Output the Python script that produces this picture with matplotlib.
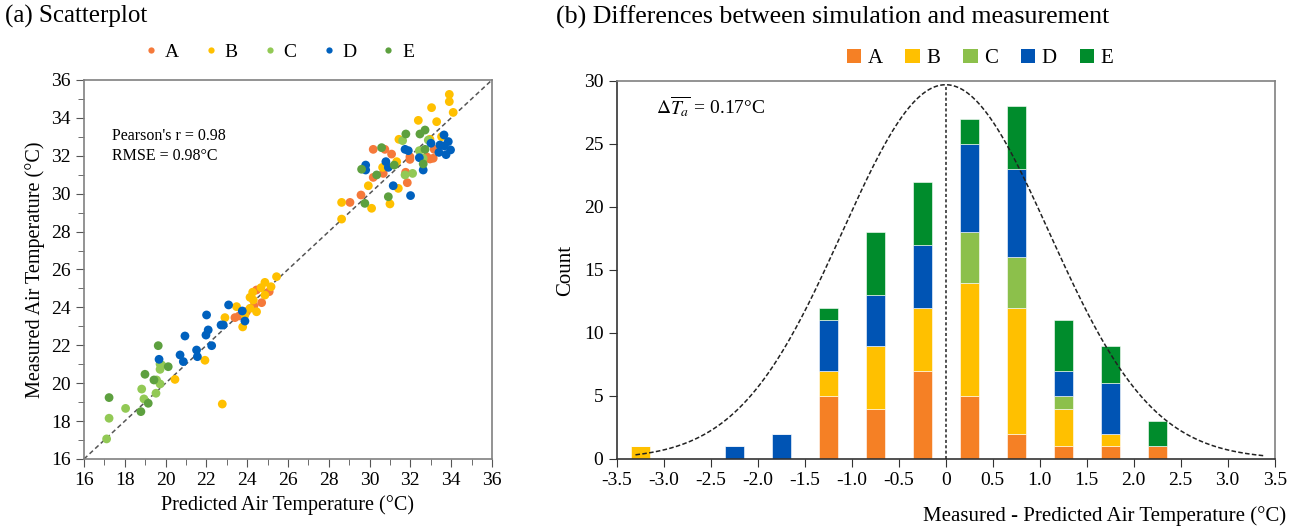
import numpy as np
import matplotlib

matplotlib.use("Agg")
import matplotlib.pyplot as plt
from matplotlib.lines import Line2D
from matplotlib.patches import Patch

plt.rcParams["font.family"] = ["Liberation Serif", "DejaVu Serif"]
plt.rcParams["mathtext.fontset"] = "stix"
plt.rcParams["axes.unicode_minus"] = False

groups = ["A", "B", "C", "D", "E"]

# (a) scatter: predicted (x) vs measured (y), per group
pred_a = [30.18, 30.75, 31.08, 30.18, 30.67, 31.77, 31.85, 29.58, 29.04, 31.98, 32.80, 32.96,
          33.12, 33.17, 31.98, 24.46, 25.08, 24.71, 24.33, 23.97, 23.61, 23.40]
meas_a = [32.34, 32.34, 32.09, 30.86, 31.07, 31.13, 30.58, 29.93, 29.54, 31.81, 31.95, 31.83,
          31.87, 32.34, 31.95, 24.92, 24.83, 24.25, 24.07, 23.78, 23.55, 23.46]
pred_b = [33.91, 33.91, 34.10, 33.04, 32.39, 33.29, 33.53, 32.96, 31.44, 30.64, 31.33, 29.94,
          31.41, 31.00, 30.10, 28.63, 28.63, 25.44, 24.87, 24.68, 24.27, 24.14, 24.87, 24.30,
          24.14, 24.46, 23.48, 22.91, 23.78, 23.89, 21.93, 20.46, 22.78, 25.17]
meas_b = [35.24, 34.86, 34.29, 34.54, 33.87, 33.80, 33.01, 32.87, 32.87, 31.39, 31.69, 30.42,
          30.28, 29.46, 29.23, 29.54, 28.66, 25.62, 25.32, 25.04, 24.80, 24.53, 24.65, 24.39,
          23.95, 23.77, 24.04, 23.46, 22.97, 23.60, 21.21, 20.20, 18.90, 25.09]
pred_c = [31.62, 32.44, 32.63, 31.74, 32.11, 32.88, 19.73, 19.81, 19.73, 19.56, 19.73, 18.83,
          18.94, 19.53, 18.04, 17.23, 17.11]
meas_c = [32.80, 32.27, 31.87, 30.99, 31.07, 32.83, 21.01, 20.96, 20.73, 20.17, 19.96, 19.69,
          19.17, 19.47, 18.67, 18.15, 17.06]
pred_d = [33.65, 33.86, 33.45, 33.66, 33.97, 33.75, 33.40, 33.01, 31.74, 31.90, 32.44, 32.63,
          30.80, 30.92, 29.81, 29.81, 31.16, 32.01, 23.09, 23.76, 23.89, 22.83, 22.72, 22.01,
          22.09, 21.98, 22.26, 20.95, 21.52, 21.56, 20.71, 20.87, 19.68]
meas_d = [33.10, 32.75, 32.57, 32.52, 32.31, 32.06, 32.18, 32.66, 32.34, 32.27, 31.90, 31.25,
          31.69, 31.39, 31.51, 31.25, 30.42, 29.90, 24.13, 23.81, 23.28, 23.07, 23.07, 23.60,
          22.81, 22.54, 21.98, 22.49, 21.75, 21.40, 21.49, 21.14, 21.26]
pred_e = [30.59, 31.78, 32.47, 32.72, 32.72, 32.63, 31.21, 30.35, 29.61, 30.92, 29.77, 19.64,
          20.13, 18.99, 19.43, 19.15, 18.79, 17.23]
meas_e = [32.43, 33.15, 33.15, 33.36, 32.34, 31.57, 31.51, 30.99, 31.29, 29.84, 29.49, 21.98,
          20.87, 20.47, 20.17, 18.94, 18.50, 19.24]

# (b) stacked histogram of differences
bin_centers = [-3.25, -2.25, -1.75, -1.25, -0.75, -0.25, 0.25, 0.75, 1.25, 1.75, 2.25]
count_a = [0, 0, 0, 5, 4, 7, 5, 2, 1, 1, 1]
count_b = [1, 0, 0, 2, 5, 5, 9, 10, 3, 1, 0]
count_c = [0, 0, 0, 0, 0, 0, 4, 4, 1, 0, 0]
count_d = [0, 1, 2, 4, 4, 5, 7, 7, 2, 4, 0]
count_e = [0, 0, 0, 1, 5, 5, 2, 5, 4, 3, 2]

# fitted normal curve drawn over the histogram
curve_peak = 29.7
curve_center = 0.0
curve_sigma = 1.1
curve_range = (-3.3, 3.4)

scatter_colors = ["#F5793A", "#FFC000", "#92C955", "#0061BE", "#5DA03F"]
bar_colors = ["#F58025", "#FFC000", "#8CC04B", "#0054B4", "#008C2C"]

fig = plt.figure(figsize=(12.98, 5.28), dpi=100)
ax1 = fig.add_axes([0.0647, 0.1307, 0.3143, 0.7178])
ax2 = fig.add_axes([0.4751, 0.1307, 0.5069, 0.716])

# ---- (a) scatterplot ----
pred = [pred_a, pred_b, pred_c, pred_d, pred_e]
meas = [meas_a, meas_b, meas_c, meas_d, meas_e]
ax1.plot([16, 36], [16, 36], ls=(0, (3, 2)), color="#555555", lw=1.1, zorder=1)
for g, xs, ys, c in zip(groups, pred, meas, scatter_colors):
    ax1.scatter(xs, ys, s=40, color=c, edgecolors="none", zorder=2, label=g)

ax1.set_xlim(16, 36)
ax1.set_ylim(16, 36)
ax1.set_xticks(np.arange(16, 37, 2))
ax1.set_yticks(np.arange(16, 37, 2))
ax1.set_xticks(np.arange(16, 37, 1), minor=True)
ax1.set_yticks(np.arange(16, 37, 1), minor=True)
ax1.tick_params(which="both", direction="out", labelsize=14, color="#555555")
ax1.tick_params(which="major", length=6)
ax1.tick_params(which="minor", length=4)
for sp in ax1.spines.values():
    sp.set_color("#808080")
    sp.set_linewidth(1.2)
ax1.set_xlabel("Predicted Air Temperature (°C)", fontsize=14.5, labelpad=4)
ax1.set_ylabel("Measured Air Temperature (°C)", fontsize=14.5, labelpad=4)
ax1.text(17.35, 33.45, "Pearson's r = 0.98\nRMSE = 0.98°C", fontsize=11.5,
         va="top", linespacing=1.3)

handles1 = [Line2D([], [], marker="o", ls="none", markersize=4.5,
                   markerfacecolor=c, markeredgecolor="none") for c in scatter_colors]
ax1.legend(handles1, groups, loc="lower center", bbox_to_anchor=(0.48, 1.03), ncol=5,
           frameon=False, fontsize=14, handlelength=0.6, handletextpad=0.4,
           columnspacing=1.35, borderaxespad=0)

# ---- (b) stacked histogram ----
counts = [count_a, count_b, count_c, count_d, count_e]
bottom = np.zeros(len(bin_centers))
for g, vals, c in zip(groups, counts, bar_colors):
    vals = np.array(vals)
    ax2.bar(bin_centers, vals, width=0.2, bottom=bottom, color=c,
            edgecolor="white", linewidth=0.4, zorder=2, label=g)
    bottom += vals

xc = np.linspace(curve_range[0], curve_range[1], 300)
yc = curve_peak * np.exp(-0.5 * ((xc - curve_center) / curve_sigma) ** 2)
ax2.plot(xc, yc, ls=(0, (3, 1.5)), color="#222222", lw=1.1, zorder=3)
ax2.plot([curve_center, curve_center], [0, curve_peak], ls=(0, (2, 1.5)),
         color="#222222", lw=1.1, zorder=3)

ax2.set_xlim(-3.5, 3.5)
ax2.set_ylim(0, 30)
ax2.set_xticks(np.arange(-3.5, 3.51, 0.5))
ax2.set_xticklabels(["0" if abs(v) < 1e-9 else f"{v:.1f}" for v in np.arange(-3.5, 3.51, 0.5)])
ax2.set_yticks(np.arange(0, 31, 5))
ax2.tick_params(direction="out", labelsize=14, length=6, color="#333333")
for name, sp in ax2.spines.items():
    sp.set_linewidth(1.2)
    sp.set_color("#333333" if name in ("left", "bottom") else "#808080")
ax2.set_ylabel("Count", fontsize=15, labelpad=6)
ax2.set_xlabel("Measured - Predicted Air Temperature (°C)", fontsize=15, loc="right",
               labelpad=12)
ax2.xaxis.label.set_x(1.017)
ax2.text(-3.08, 27.9, r"$\Delta\overline{T_a}$ = 0.17°C", fontsize=14, va="center")

handles2 = [Patch(facecolor=c, edgecolor="none") for c in bar_colors]
ax2.legend(handles2, groups, loc="lower center", bbox_to_anchor=(0.552, 1.0), ncol=5,
           frameon=False, fontsize=15, handlelength=0.7, handleheight=0.7,
           handletextpad=0.3, columnspacing=1.1, borderaxespad=0.2)

fig.text(0.004, 0.99, "(a) Scatterplot", fontsize=18, va="top")
fig.text(0.428, 0.99, "(b) Differences between simulation and measurement", fontsize=18.6,
         va="top")

fig.savefig("out.png", dpi=100)
